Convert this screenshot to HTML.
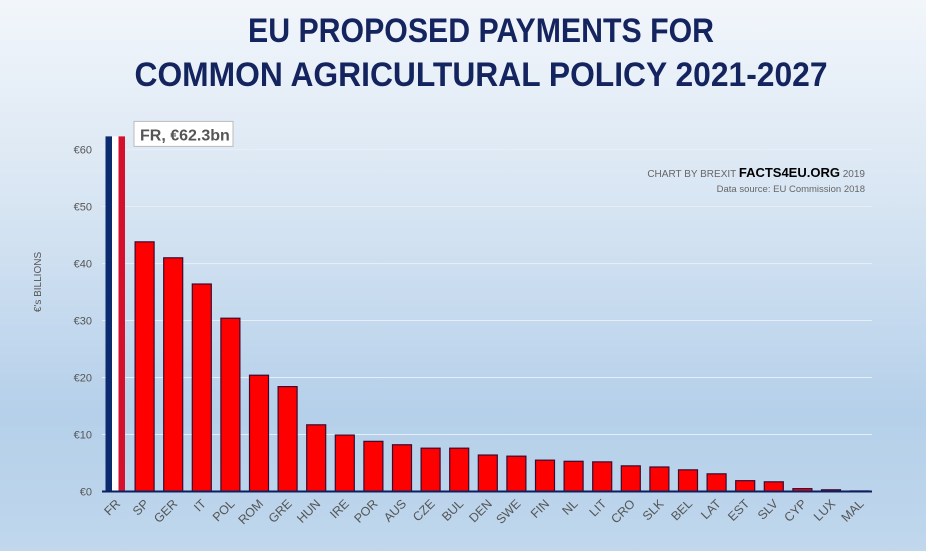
<!DOCTYPE html>
<html><head><meta charset="utf-8"><style>
html,body{margin:0;padding:0;}
body{width:926px;height:551px;overflow:hidden;font-family:"Liberation Sans",sans-serif;}
</style></head><body>
<svg width="926" height="551" viewBox="0 0 926 551">
<defs>
<linearGradient id="bg" x1="0" y1="0" x2="0" y2="1">
<stop offset="0" stop-color="#f2f6fb"/><stop offset="0.35" stop-color="#d9e6f3"/><stop offset="0.75" stop-color="#b5d0ea"/><stop offset="1" stop-color="#c0d7ec"/>
</linearGradient>
</defs>
<rect width="926" height="551" fill="url(#bg)"/>
<text x="481" y="42" text-anchor="middle" font-size="34" font-weight="bold" fill="#14245e" textLength="466" lengthAdjust="spacingAndGlyphs">EU PROPOSED PAYMENTS FOR</text>
<text x="481" y="86" text-anchor="middle" font-size="34" font-weight="bold" fill="#14245e" textLength="693" lengthAdjust="spacingAndGlyphs">COMMON AGRICULTURAL POLICY 2021-2027</text>
<text x="865" y="177" text-anchor="end" font-size="10" fill="#666">CHART BY BREXIT <tspan font-size="13" font-weight="bold" fill="#000">FACTS4EU.ORG</tspan> 2019</text>
<text x="865" y="192" text-anchor="end" font-size="9.5" fill="#666">Data source: EU Commission 2018</text>
<text transform="translate(41,282) rotate(-90)" text-anchor="middle" font-size="10" fill="#555">€'s BILLIONS</text>
<g id="grid"></g><g id="bars"></g><g id="xl"></g>
</svg>
<script>
const categories=["FR","SP","GER","IT","POL","ROM","GRE","HUN","IRE","POR","AUS","CZE","BUL","DEN","SWE","FIN","NL","LIT","CRO","SLK","BEL","LAT","EST","SLV","CYP","LUX","MAL"];
const values=[62.3,43.8,41.0,36.4,30.4,20.4,18.4,11.7,9.9,8.8,8.2,7.6,7.6,6.4,6.2,5.5,5.3,5.2,4.5,4.3,3.8,3.1,1.9,1.7,0.5,0.3,0.1];
const ticks=[0,10,20,30,40,50,60];
const tickLabels=["€0","€10","€20","€30","€40","€50","€60"];
const NS="http://www.w3.org/2000/svg";
const y0=491.5, pxPer=5.70, x0=116, step=28.6, bw=19;
const yS=v=>y0-v*pxPer, xS=i=>x0+i*step;
function mk(t,a,p){const e=document.createElementNS(NS,t);for(const k in a)e.setAttribute(k,a[k]);p.appendChild(e);return e;}
const grid=document.getElementById('grid'),bars=document.getElementById('bars'),xl=document.getElementById('xl');
ticks.forEach((t,i)=>{
 if(t>0){const l=mk('line',{x1:102,x2:872,y1:yS(t),y2:yS(t),stroke:'#e6eef7','stroke-width':1},grid);
 
 }
 const tx=mk('text',{x:92,y:yS(t)+4,'text-anchor':'end','font-size':11,fill:'#555'},grid);
 tx.textContent=tickLabels[i];
 
 
});
categories.forEach((c,i)=>{
 const x=xS(i)-bw/2,y=yS(values[i]),h=y0-y;
 if(i===0){
  const g=mk('g',{},bars);
  
  
  mk('rect',{x:x-1,y:y,width:6.5,height:h,fill:'#0c2a6e'},g);
  mk('rect',{x:x+5.5,y:y,width:6.5,height:h,fill:'#ffffff'},g);
  mk('rect',{x:x+12,y:y,width:6.5,height:h,fill:'#d4102c'},g);
 } else {
  const r=mk('rect',{x:x,y:y,width:bw,height:h,fill:'#ff0000',stroke:'#3a0a30','stroke-width':1.2},bars);
  
  
 }
 const t=mk('text',{transform:`translate(${xS(i)+5},${y0+13}) rotate(-45)`,'text-anchor':'end','font-size':12.5,fill:'#555'},xl);
 t.textContent=c;
 
 
});
const ax=mk('line',{x1:102,x2:872,y1:y0,y2:y0,stroke:'#0c2060','stroke-width':2},bars);


const lb=mk('g',{},bars);


mk('rect',{x:134,y:yS(values[0])-15,width:99,height:25,fill:'#fff',stroke:'#bbb'},lb);
const lt=mk('text',{x:140,y:yS(values[0])+4,'font-size':16,'font-weight':'bold',fill:'#555'},lb);
lt.textContent='FR, €'+values[0]+'bn';
</script>
</body></html>
